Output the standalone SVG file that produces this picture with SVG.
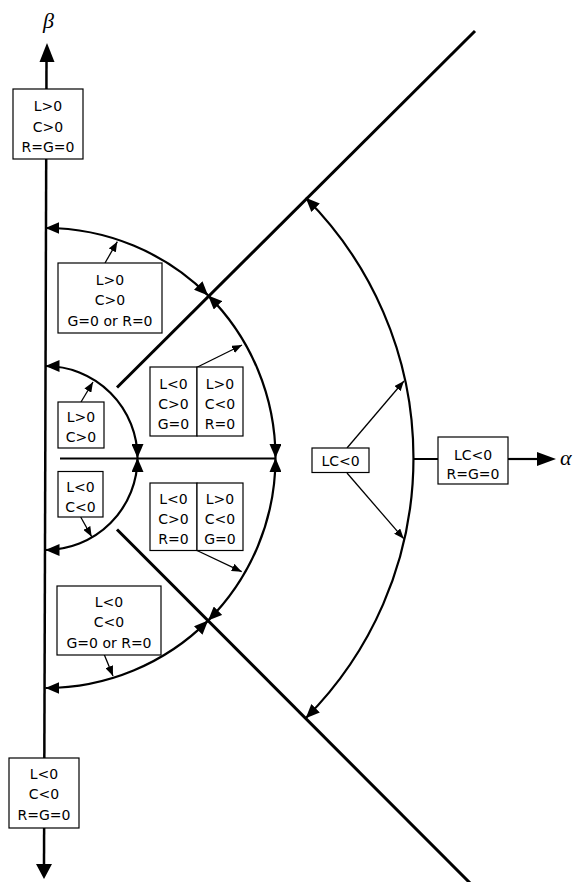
<svg xmlns="http://www.w3.org/2000/svg" width="574" height="882" viewBox="0 0 574 882">
<style>
.box{fill:#fff;stroke:#000;stroke-width:1.2}
.t{font-family:"DejaVu Sans",sans-serif;font-size:14px;fill:#000;text-anchor:middle}
.sym{font-family:"Liberation Serif",serif;font-style:italic;font-size:22px;fill:#000}
.arc{fill:none;stroke:#000;stroke-width:2.2;marker-start:url(#ah);marker-end:url(#ah)}
.ptr{fill:none;stroke:#000;stroke-width:1.3;marker-end:url(#sh)}
.ax{fill:none;stroke:#000;stroke-width:2.5}
.dg{fill:none;stroke:#000;stroke-width:3}
</style>
<defs>
<marker id="ah" markerUnits="userSpaceOnUse" viewBox="0 0 14 12" markerWidth="14" markerHeight="12" refX="14" refY="6" orient="auto-start-reverse"><path d="M0,0 L14,6 L0,12 z" fill="#000"/></marker>
<marker id="sh" markerUnits="userSpaceOnUse" viewBox="0 0 10 8" markerWidth="10" markerHeight="8" refX="10" refY="4" orient="auto"><path d="M0,0 L10,4 L0,8 z" fill="#000"/></marker>
</defs>
<rect width="574" height="882" fill="#fff"/>
<g id="connectors">
<line class="ax" x1="46.5" y1="60" x2="44" y2="866"/>
<path d="M47,43 L39.5,62 L54.5,62 z" fill="#000"/>
<path d="M44,879 L36,864 L52,864 z" fill="#000"/>
<line class="ax" x1="60" y1="458.5" x2="275.5" y2="458.5" style="stroke-width:2"/>
<line class="ax" x1="413.5" y1="459" x2="438" y2="459" style="stroke-width:2"/>
<line class="ax" x1="508" y1="459" x2="539" y2="459" style="stroke-width:2.2"/>
<path d="M556,459 L537,452 L537,466 z" fill="#000"/>
<line class="dg" x1="117" y1="387.5" x2="475" y2="31"/>
<line class="dg" x1="117" y1="529.5" x2="476" y2="889"/>
<path class="arc" d="M45.5,366 A92,92 0 0 1 137.5,458"/>
<path class="arc" d="M137.5,458 A92,92 0 0 1 45.5,550"/>
<path class="arc" d="M45.5,228 A230,230 0 0 1 208.1,295.4"/>
<path class="arc" d="M208.1,295.4 A230,230 0 0 1 275.5,458"/>
<path class="arc" d="M275.5,458 A230,230 0 0 1 208.1,620.6"/>
<path class="arc" d="M208.1,620.6 A230,230 0 0 1 45.5,688"/>
<path class="arc" d="M305.7,197.8 A368,368 0 0 1 305.7,718.2"/>
<line class="ptr" x1="105" y1="263" x2="117.3" y2="241.7"/>
<line class="ptr" x1="81" y1="402" x2="93" y2="382"/>
<line class="ptr" x1="80.7" y1="517" x2="91.7" y2="536.7"/>
<line class="ptr" x1="104" y1="654" x2="113" y2="676"/>
<line class="ptr" x1="197.5" y1="367" x2="242" y2="345"/>
<line class="ptr" x1="197" y1="550.5" x2="241.7" y2="571.7"/>
<line class="ptr" x1="347" y1="448" x2="404" y2="381"/>
<line class="ptr" x1="347" y1="473" x2="403.7" y2="538.7"/>
</g>
<g id="beta-label"><text class="sym" x="43" y="28">β</text></g>
<g id="alpha-label"><text class="sym" x="560" y="465">α</text></g>
<g id="box-top">
<rect class="box" x="13" y="89" width="70" height="70"/>
<text class="t" x="48" y="111">L&gt;0</text>
<text class="t" x="48" y="131.5">C&gt;0</text>
<text class="t" x="48" y="152">R=G=0</text>
</g>
<g id="box-bottom">
<rect class="box" x="9" y="758" width="70" height="70"/>
<text class="t" x="44" y="778.5">L&lt;0</text>
<text class="t" x="44" y="799">C&lt;0</text>
<text class="t" x="44" y="819.5">R=G=0</text>
</g>
<g id="box-lpcp-or">
<rect class="box" x="58" y="263" width="104" height="70"/>
<text class="t" x="110" y="285">L&gt;0</text>
<text class="t" x="110" y="305">C&gt;0</text>
<text class="t" x="110" y="326">G=0 or R=0</text>
</g>
<g id="box-lncn-or">
<rect class="box" x="57" y="586" width="104" height="69"/>
<text class="t" x="109" y="607">L&lt;0</text>
<text class="t" x="109" y="627">C&lt;0</text>
<text class="t" x="109" y="648">G=0 or R=0</text>
</g>
<g id="box-lpcp">
<rect class="box" x="58" y="402" width="46" height="46"/>
<text class="t" x="81" y="422">L&gt;0</text>
<text class="t" x="81" y="442">C&gt;0</text>
</g>
<g id="box-lncn">
<rect class="box" x="58" y="471.5" width="45" height="45.5"/>
<text class="t" x="80.5" y="492">L&lt;0</text>
<text class="t" x="80.5" y="512">C&lt;0</text>
</g>
<g id="box-upper-pair">
<rect class="box" x="150" y="367" width="47" height="69"/>
<rect class="box" x="197" y="367" width="46" height="69"/>
<text class="t" x="173.5" y="388.5">L&lt;0</text>
<text class="t" x="173.5" y="408.5">C&gt;0</text>
<text class="t" x="173.5" y="428.5">G=0</text>
<text class="t" x="220" y="388.5">L&gt;0</text>
<text class="t" x="220" y="408.5">C&lt;0</text>
<text class="t" x="220" y="428.5">R=0</text>
</g>
<g id="box-lower-pair">
<rect class="box" x="150" y="483" width="47" height="67.5"/>
<rect class="box" x="197" y="483" width="46" height="67.5"/>
<text class="t" x="173.5" y="503.5">L&lt;0</text>
<text class="t" x="173.5" y="523.5">C&gt;0</text>
<text class="t" x="173.5" y="543.5">R=0</text>
<text class="t" x="220" y="503.5">L&gt;0</text>
<text class="t" x="220" y="523.5">C&lt;0</text>
<text class="t" x="220" y="543.5">G=0</text>
</g>
<g id="box-lc">
<rect class="box" x="312" y="448" width="57" height="24.5"/>
<text class="t" x="340.5" y="465.5">LC&lt;0</text>
</g>
<g id="box-lc-rg">
<rect class="box" x="438" y="437" width="70" height="47"/>
<text class="t" x="473" y="459.5">LC&lt;0</text>
<text class="t" x="473" y="478.5">R=G=0</text>
</g>
</svg>
